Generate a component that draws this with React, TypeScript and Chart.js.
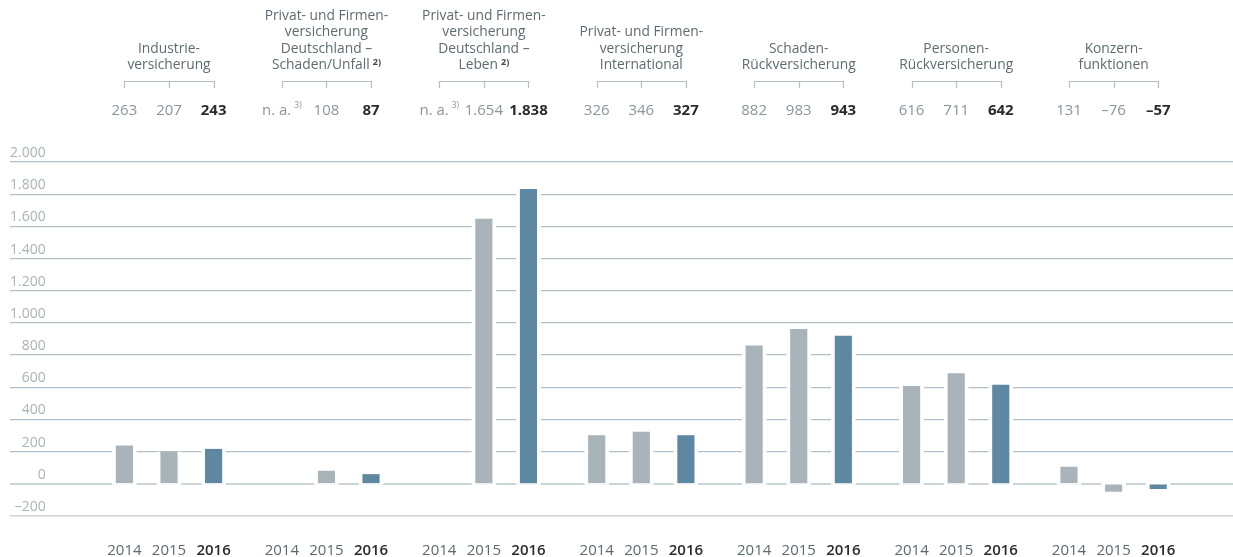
import React, { useEffect, useRef } from 'react';
import { Chart, registerables } from 'chart.js';

Chart.register(...registerables);

// ---------- data ----------
const groupTitles: string[][] = [
  ['Industrie-', 'versicherung'],
  ['Privat- und Firmen-', 'versicherung', 'Deutschland –', 'Schaden/Unfall'],
  ['Privat- und Firmen-', 'versicherung', 'Deutschland –', 'Leben'],
  ['Privat- und Firmen-', 'versicherung', 'International'],
  ['Schaden-', 'Rückversicherung'],
  ['Personen-', 'Rückversicherung'],
  ['Konzern-', 'funktionen'],
];
const titleNotes = ['', '2)', '2)', '', '', '', ''];
const years = ['2014', '2015', '2016'];
const header2014 = ['263', 'n. a.', 'n. a.', '326', '882', '616', '131'];
const header2015 = ['207', '108', '1.654', '346', '983', '711', '–76'];
const header2016 = ['243', '87', '1.838', '327', '943', '642', '–57'];
const naNote = '3)';
const values2014: (number | null)[] = [236, null, null, 300, 858, 606, 104];
const values2015: (number | null)[] = [199, 79, 1646, 321, 960, 685, -47];
const values2016: (number | null)[] = [215, 58, 1830, 300, 918, 614, -30];
const yMin = -200;
const yMax = 2000;
const yStep = 200;

// ---------- style / layout ----------
const FONT = '"Open Sans", "Noto Sans", sans-serif';
const GROUP_STEP = 3.53;
const GRAY = '#a8b3ba';
const BLUE = '#5e88a1';

const headerValues = [header2014, header2015, header2016];
const seriesValues = [values2014, values2015, values2016];

const fmt = (v: number) => {
  const s = Math.abs(v).toString().replace(/\B(?=(\d{3})+(?!\d))/g, '.');
  return v < 0 ? '–' + s : s;
};

const haloPlugin = {
  id: 'halo',
  beforeDatasetsDraw(chart: any) {
    const ctx = chart.ctx;
    ctx.save();
    ctx.fillStyle = '#ffffff';
    chart.data.datasets.forEach((ds: any, i: number) => {
      const meta = chart.getDatasetMeta(i);
      meta.data.forEach((el: any, j: number) => {
        const v = ds.data[j]?.y;
        if (v == null) return;
        const { x, y, base, width } = el.getProps(['x', 'y', 'base', 'width'], true);
        const top = Math.min(y, base);
        const bottom = Math.max(y, base);
        const pad = 4;
        const y0 = v >= 0 ? top : top - 2;
        const y1 = v >= 0 ? bottom + 2 : bottom;
        ctx.fillRect(x - width / 2 - pad, y0, width + 2 * pad, y1 - y0);
      });
    });
    ctx.restore();
  },
};

const headerPlugin = {
  id: 'header',
  afterDraw(chart: any) {
    const ctx = chart.ctx;
    const xs = chart.scales.x;
    ctx.save();
    groupTitles.forEach((lines, g) => {
      const px = (k: number) => xs.getPixelForValue(g * GROUP_STEP + k);
      const cx = px(1);
      ctx.textBaseline = 'middle';
      const n = lines.length;
      lines.forEach((line, i) => {
        const y = 65 - (n - 1 - i) * 16.3;
        ctx.font = `400 13.8px ${FONT}`;
        ctx.fillStyle = '#5f6b73';
        const note = i === n - 1 ? titleNotes[g] : '';
        if (note) {
          const w1 = ctx.measureText(line).width;
          ctx.font = `700 9px ${FONT}`;
          const w2 = ctx.measureText(note).width;
          const total = w1 + 3 + w2;
          const sx = cx - total / 2;
          ctx.textAlign = 'left';
          ctx.font = `400 13.8px ${FONT}`;
          ctx.fillText(line, sx, y);
          ctx.font = `700 9px ${FONT}`;
          ctx.fillStyle = '#3f4a51';
          ctx.fillText(note, sx + w1 + 3, y - 3);
        } else {
          ctx.textAlign = 'center';
          ctx.fillText(line, cx, y);
        }
      });
      ctx.strokeStyle = '#b3bec5';
      ctx.lineWidth = 1.2;
      ctx.beginPath();
      const bl = Math.round(px(0)) + 0.5;
      const bm = Math.round(px(1)) + 0.5;
      const br = Math.round(px(2)) + 0.5;
      ctx.moveTo(bl, 88);
      ctx.lineTo(bl, 81.5);
      ctx.lineTo(br, 81.5);
      ctx.lineTo(br, 88);
      ctx.moveTo(bm, 81.5);
      ctx.lineTo(bm, 88);
      ctx.stroke();
      for (let k = 0; k < 3; k++) {
        const txt = headerValues[k][g];
        const x = px(k);
        const bold = k === 2;
        ctx.font = `${bold ? 700 : 400} 15px ${FONT}`;
        ctx.fillStyle = bold ? '#2b2b2b' : '#8a959c';
        if (txt === 'n. a.') {
          const w1 = ctx.measureText(txt).width;
          ctx.font = `400 8.5px ${FONT}`;
          const w2 = ctx.measureText(naNote).width;
          const total = w1 + 3 + w2;
          const sx = x - total / 2;
          ctx.textAlign = 'left';
          ctx.font = `400 15px ${FONT}`;
          ctx.fillText(txt, sx, 111);
          ctx.font = `400 8.5px ${FONT}`;
          ctx.fillText(naNote, sx + w1 + 3, 106);
        } else {
          ctx.textAlign = 'center';
          ctx.fillText(txt, x, 111);
        }
      }
    });
    ctx.restore();
  },
};

const positions: number[] = [];
groupTitles.forEach((_, g) => {
  for (let k = 0; k < 3; k++) positions.push(g * GROUP_STEP + k);
});

export default function App() {
  const ref = useRef<HTMLCanvasElement | null>(null);

  useEffect(() => {
    document.body.style.margin = '0';
    if (!ref.current) return;
    const datasets = years.map((yr, k) => ({
      label: yr,
      data: seriesValues[k].map((v, g) => ({ x: g * GROUP_STEP + k, y: v })),
      backgroundColor: k === 2 ? BLUE : GRAY,
      barThickness: 16.5,
      grouped: false,
      borderWidth: 0,
    }));
    const chart = new Chart(ref.current, {
      type: 'bar',
      data: { datasets: datasets as any },
      options: {
        animation: false,
        responsive: false,
        maintainAspectRatio: false,
        devicePixelRatio: 1,
        layout: { padding: { left: 10, right: 0, top: 162, bottom: 10 } },
        plugins: {
          legend: { display: false },
          tooltip: { enabled: false },
        },
        scales: {
          x: {
            type: 'linear',
            offset: false,
            min: -2.565,
            max: 24.857,
            grid: { display: false, drawTicks: false, offset: false },
            border: { display: false },
            afterBuildTicks: (axis: any) => {
              axis.ticks = positions.map((v) => ({ value: v }));
            },
            ticks: {
              autoSkip: false,
              maxRotation: 0,
              padding: 26,
              callback: (_v: any, i: number) => years[i % 3],
              color: (c: any) => (c.index % 3 === 2 ? '#2b2b2b' : '#5d6970'),
              font: (c: any) => ({
                family: FONT,
                size: 15,
                weight: c.index % 3 === 2 ? '600' : '400',
              }),
            },
          },
          y: {
            type: 'linear',
            min: yMin,
            max: yMax,
            grid: {
              drawTicks: false,
              color: (c: any) =>
                c.tick && c.tick.value <= 0 ? '#cdd4d8' : '#b4c0c7',
              lineWidth: (c: any) =>
                c.tick && c.tick.value === 0 ? 2 : c.tick && c.tick.value < 0 ? 1.5 : 1.3,
            },
            border: { display: false },
            ticks: {
              stepSize: yStep,
              mirror: true,
              crossAlign: 'far',
              padding: 0,
              labelOffset: -9,
              color: '#a9b4bb',
              font: { family: FONT, size: 14 },
              callback: (v: any) => fmt(Number(v)),
            },
          },
        },
      },
      plugins: [haloPlugin, headerPlugin],
    } as any);
    return () => chart.destroy();
  }, []);

  return (
    <div style={{ width: 1233, height: 557, overflow: 'hidden', position: 'relative' }}>
      <canvas ref={ref} width={1233} height={596} style={{ display: 'block', width: 1233, height: 596 }} />
    </div>
  );
}
